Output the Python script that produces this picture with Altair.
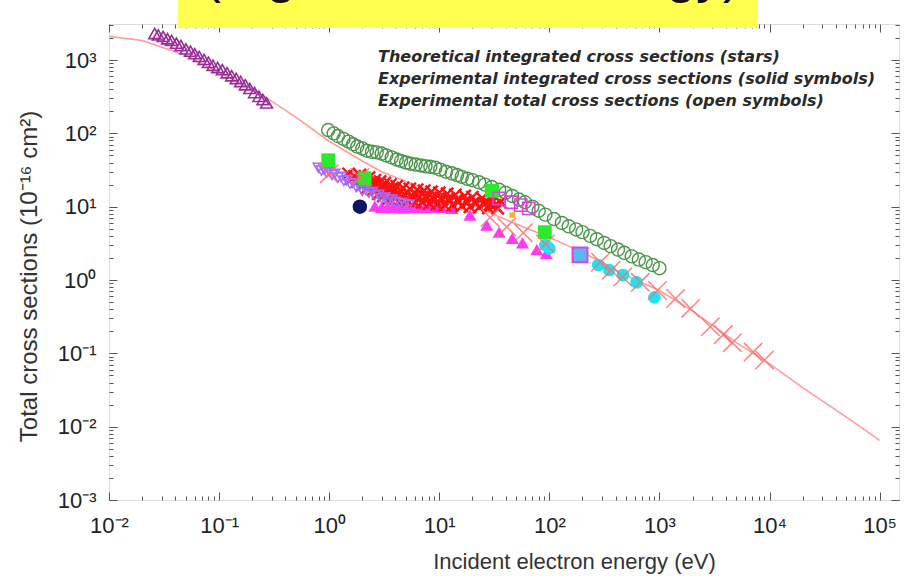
import altair as alt
import pandas as pd

# ---------------- data ----------------
# theory curve (pink line)
line_E = [0.01, 0.02, 0.05, 0.1, 0.2, 0.3, 0.5, 1, 2, 3, 5, 10, 20, 50, 100,
          200, 500, 1000, 2000, 5000, 10000, 20000, 50000, 100000]
line_S = [2100, 1850, 1150, 680, 400, 275, 165, 78, 42, 30, 22, 15, 10.5, 5.8, 3.8,
          2.4, 1.15, 0.72, 0.38, 0.14, 0.072, 0.034, 0.0135, 0.0065]

# purple open triangles (low energy)
tri_E = [0.026, 0.028, 0.031, 0.034, 0.037, 0.041, 0.045, 0.050, 0.055, 0.060, 0.066,
         0.073, 0.080, 0.088, 0.097, 0.107, 0.118, 0.13, 0.143, 0.157, 0.173, 0.19,
         0.21, 0.23, 0.25, 0.27]
tri_S = [2300, 2200, 2100, 1950, 1850, 1700, 1580, 1420, 1320, 1220, 1120, 1020, 930,
         850, 790, 740, 670, 610, 560, 510, 460, 410, 360, 320, 290, 260]

# green open circles
circ_E = [0.98, 1.1, 1.2, 1.35, 1.5, 1.65, 1.8, 2.0, 2.2, 2.45, 2.7, 3.0, 3.3, 3.7, 4.1,
          4.5, 5.0, 5.5, 6.1, 6.8, 7.5, 8.3, 9.2, 10.2, 11.5, 13, 14.5, 16, 18, 20, 23,
          26, 30, 35, 40, 46, 53, 60, 70, 80, 92, 110, 130, 150, 175, 200, 235, 270,
          315, 360, 420, 480, 560, 650, 750, 870, 1000]
circ_S = [111, 100, 92, 84, 77, 71, 66, 62, 58, 56, 55, 53, 50, 47, 44, 42, 40, 38.5,
          37.5, 36.5, 35.5, 35, 34, 32, 30, 28.5, 27, 25.5, 24, 23, 21.5, 20, 18.5, 17,
          15.5, 14, 12.5, 11.5, 10, 8.8, 7.8, 6.8, 6.0, 5.4, 4.9, 4.5, 4.0, 3.6, 3.2,
          2.9, 2.6, 2.35, 2.1, 1.9, 1.75, 1.6, 1.45]

# lavender open down-triangles
lav_E = [0.8, 0.85, 0.9, 0.95, 1.0, 1.06, 1.12, 1.2, 1.28, 1.36, 1.45, 1.55, 1.65, 1.76,
         1.88, 2.0, 2.15, 2.3, 2.45, 2.6, 2.8, 3.0, 3.2, 3.45, 3.7, 4.0, 4.4, 4.8, 5.3]
lav_S = [34, 31, 32, 29, 30, 27, 28, 25, 25.5, 22.5, 23, 20.5, 21, 18.5, 19, 16.5, 17,
         15.5, 15.8, 14.2, 14.5, 13, 13.3, 12.3, 12.5, 11.6, 11.2, 10.9, 10.6]

# magenta filled triangles
mag_E = [2.6, 3.0, 3.4, 3.8, 4.3, 4.8, 5.4, 6.0, 6.7, 7.5, 8.4, 9.4, 10.5, 13, 19, 27,
         35, 46, 57, 77, 94]
mag_S = [10.2, 9.8, 10.1, 9.7, 10.0, 9.6, 10.1, 9.8, 10.0, 9.7, 9.9, 10.0, 9.8, 9.5,
         7.7, 5.6, 4.5, 3.7, 3.2, 2.6, 2.3]

# dense red crosses
red_E = [1.5, 1.6, 1.7, 1.8, 1.9, 2.0, 2.1, 2.2, 2.3, 2.4, 2.5, 2.6, 2.7, 2.8, 2.9, 3.0,
         3.1, 3.2, 3.4, 3.5, 3.6, 3.8, 4.0, 4.1, 4.3, 4.5, 4.7, 4.9, 5.2, 5.4, 5.7, 6.0,
         6.3, 6.6, 7.0, 7.3, 7.7, 8.1, 8.5, 9.0, 9.5, 10, 10.6, 11.2, 11.8, 12.5, 13.2,
         14, 15, 16, 17, 18, 19, 20, 21.5, 23, 24.5, 26, 28, 30, 32, 34, 36,
         2.05, 2.55, 3.05, 3.7, 4.4, 5.1, 6.2, 7.5, 8.8, 10.3, 12.2, 14.5, 17.5, 21, 25, 29]
red_S = [28, 24, 26, 22, 27, 20, 24, 18, 25, 21, 17, 23, 19, 15, 22, 18, 14, 21, 17, 13,
         20, 16, 13, 19, 15, 12.5, 18, 14.5, 12, 17.5, 14, 11.5, 17, 13.5, 11.5, 16.5,
         13, 11, 16, 12.5, 10.8, 15.5, 12.5, 10.5, 15, 12, 10.5, 14.5, 11.8, 10.2, 14,
         11.5, 10, 13.5, 11.2, 9.8, 13, 11, 9.6, 12.5, 10.5, 9.5, 11.5,
         22, 20, 19, 17.5, 16.5, 15.5, 14.5, 14, 13.5, 13, 12.8, 12.3, 11.9, 11.5, 11, 10.8]

# light red "star" crosses (theory)
star_E = [1.0, 1.9, 29, 41, 58, 92, 291, 365, 464, 670, 960, 1400, 1920, 2900, 3800,
          4600, 7100, 9000]
star_S = [28, 25, 7.1, 5.3, 4.4, 3.1, 1.75, 1.36, 1.1, 0.93, 0.72, 0.56, 0.41, 0.23,
          0.18, 0.14, 0.104, 0.081]

# green filled squares
sq_E = [0.98, 2.1, 30, 91]
sq_S = [43, 24.5, 16.5, 4.5]

# navy filled circle
navy_E = [1.9]
navy_S = [10]

# cyan filled circles
cy_E = [92, 100, 278, 350, 466, 620, 900]
cy_S = [3.0, 2.7, 1.6, 1.37, 1.17, 0.93, 0.58]

# magenta open squares
msq_E = [35, 45, 55, 65]
msq_S = [13, 11.5, 10.5, 9.5]

# magenta square with blue fill
bsq_E = [190]
bsq_S = [2.2]

# orange marker
or_E = [46]
or_S = [7.7]

notes = ["Theoretical integrated cross sections (stars)",
         "Experimental integrated cross sections (solid symbols)",
         "Experimental total cross sections (open symbols)"]

# fragments of the (cut-off) banner title that remain visible
banner_left = "(e.g."
banner_right = "energy)"

x_major = [1e-2, 1e-1, 1, 10, 100, 1e3, 1e4, 1e5]
y_major = [1e-3, 1e-2, 1e-1, 1, 10, 100, 1e3]
x_ticks = [m * 10.0 ** e for e in range(-2, 6) for m in range(1, 10) if m * 10.0 ** e <= 1.5e5]
y_ticks = [m * 10.0 ** e for e in range(-3, 4) for m in range(1, 10) if m * 10.0 ** e <= 3100]

# ---------------- chart ----------------
W, H = 790, 476
xs = alt.Scale(type="log", domain=[0.01, 1.5e5], nice=False)
ys = alt.Scale(type="log", domain=[1e-3, 3100], nice=False)

SUP = "['10⁻³','10⁻²','10⁻¹','10⁰','10¹','10²','10³','10⁴','10⁵'][round(log(datum.value)/LN10)+3]"
TS = {"condition": {"test": "abs(log(datum.value)/LN10 - round(log(datum.value)/LN10)) < 0.001",
                    "value": 8}, "value": 4}
FONT = "Liberation Sans"

ax_x_lab = alt.Axis(values=x_major, labelExpr=SUP, ticks=False, domain=False, grid=False,
                    labelFont=FONT, labelFontSize=22, labelColor="#222", labelPadding=15,
                    labelFlush=False,
                    title="Incident electron energy (eV)", titleFont=FONT, titleFontSize=22,
                    titleFontWeight="normal", titleColor="#333", titleX=465, titleY=61,
                    titleAlign="center", titleBaseline="middle")
ax_y_lab = alt.Axis(values=y_major, labelExpr=SUP, ticks=False, domain=False, grid=False,
                    labelFont=FONT, labelFontSize=22, labelColor="#222", labelPadding=13,
                    labelFlush=False,
                    title="Total cross sections (10⁻¹⁶ cm²)", titleFont=FONT, titleFontSize=24,
                    titleFontWeight="normal", titleColor="#333", titleX=-80, titleY=252,
                    titleAngle=270, titleAlign="center", titleBaseline="middle")


def tick_axis(vals, orient, offset):
    return alt.Axis(values=vals, orient=orient, offset=offset, labels=False, domain=False,
                    grid=False, title=None, tickColor="#555", tickWidth=1, tickSize=TS)


ax_x_b = tick_axis(x_ticks, "top", -H)
ax_x_t = tick_axis(x_ticks, "bottom", -H)
ax_y_l = tick_axis(y_ticks, "right", -W)
ax_y_r = tick_axis(y_ticks, "left", -W)


def df(E, S):
    return pd.DataFrame({"E": E, "S": S})


XSHAPE = "M-1,-1L1,1M-1,1L1,-1"


def pts(E, S, shape, size, stroke=None, fill=None, sw=1.3, xa=None, ya=None, op=1.0):
    kw = dict(shape=shape, size=size, opacity=op, strokeWidth=sw)
    if fill is None:
        kw.update(filled=False, stroke=stroke)
    else:
        kw.update(filled=True, fill=fill)
        if stroke:
            kw.update(stroke=stroke)
    return alt.Chart(df(E, S)).mark_point(**kw).encode(
        x=alt.X("E:Q", scale=xs, axis=xa),
        y=alt.Y("S:Q", scale=ys, axis=ya),
    )


line = alt.Chart(df(line_E, line_S)).mark_line(color="#FF9C9C", strokeWidth=1.6).encode(
    x=alt.X("E:Q", scale=xs, axis=ax_x_lab),
    y=alt.Y("S:Q", scale=ys, axis=ax_y_lab),
)

layers = [
    line,
    pts(tri_E, tri_S, "triangle-up", 140, stroke="#9A2C9A", sw=1.6, xa=ax_x_b, ya=ax_y_l),
    pts(circ_E, circ_S, "circle", 170, stroke="#4A954A", sw=1.4, xa=ax_x_t, ya=ax_y_r),
    pts(mag_E, mag_S, "triangle-up", 170, fill="#FF38F5"),
    pts(red_E, red_S, XSHAPE, 150, stroke="#FF1010", sw=2.4),
    pts(lav_E, lav_S, "triangle-down", 110, stroke="#A36BFF", sw=1.5),
    pts(sq_E, sq_S, "square", 190, fill="#2BEA2B"),
    pts(navy_E, navy_S, "circle", 210, fill="#0B1466"),
    pts(cy_E, cy_S, "circle", 160, fill="#19E6F2"),
    pts(msq_E, msq_S, "square", 150, stroke="#E040E0", sw=1.6),
    pts(bsq_E, bsq_S, "square", 220, stroke="#E040E0", fill="#5EB6F0", sw=2),
    pts(or_E, or_S, "square", 30, fill="#FFB020"),
    pts(star_E, star_S, XSHAPE, 340, stroke="#FF6E6E", sw=1.5, op=0.85),
]

note = alt.Chart(pd.DataFrame({"t": ["\n".join(notes)]})).mark_text(
    align="left", baseline="middle", font="DejaVu Sans", fontSize=16, fontStyle="italic",
    fontWeight="bold", color="#2A2A2A", lineBreak="\n", lineHeight=22,
).encode(text="t:N", x=alt.value(269), y=alt.value(33))

banner = alt.Chart(pd.DataFrame({"a": [0]})).mark_rect(color="#FFFF50").encode(
    x=alt.value(69), x2=alt.value(648), y=alt.value(-24), y2=alt.value(4))

btxt_l = alt.Chart(pd.DataFrame({"t": [banner_left]})).mark_text(
    align="left", baseline="alphabetic", font=FONT, fontSize=54, color="#111",
).encode(text="t:N", x=alt.value(94), y=alt.value(-32))

btxt_r = alt.Chart(pd.DataFrame({"t": [banner_right]})).mark_text(
    align="right", baseline="alphabetic", font=FONT, fontSize=54, color="#111",
).encode(text="t:N", x=alt.value(632), y=alt.value(-32))

chart = alt.layer(*layers, note, banner, btxt_l, btxt_r).resolve_axis(
    x="independent", y="independent").properties(
    width=W, height=H,
    autosize=alt.AutoSizeParams(type="none"),
    padding={"left": 109, "top": 24, "right": 17, "bottom": 84},
).configure_view(stroke="#444", strokeWidth=1).configure(background="white")

chart.save("out.html", embed_options={"renderer": "svg", "actions": False})
